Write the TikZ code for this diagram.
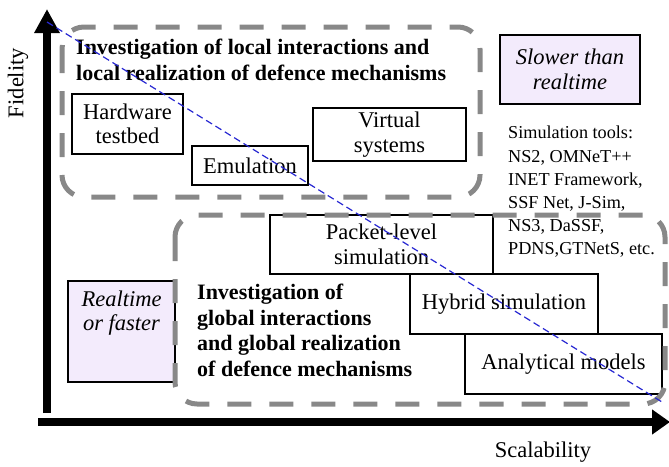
\documentclass[tikz,border=0pt]{standalone}
\usepackage{fontspec}
\setmainfont{Liberation Serif}
\usetikzlibrary{arrows.meta}
\definecolor{lav}{RGB}{243,235,252}
\definecolor{dgray}{RGB}{136,136,136}
\definecolor{dblue}{RGB}{40,40,210}
\begin{document}
\begin{tikzpicture}[x=1pt,y=-1pt,
  txt/.style={font=\fontsize{22.5}{24.5}\selectfont},
  btxt/.style={font=\fontsize{22}{25.5}\selectfont\bfseries},
  box/.style={draw=black,line width=1.6pt,fill=white,txt,align=center,inner sep=0pt},
  shade/.style={box,fill=lav,font=\fontsize{22.5}{24.5}\selectfont\itshape},
  region/.style={draw=dgray,line width=5pt,rounded corners=22pt,dash pattern=on 24pt off 18pt},
  axis/.style={line width=7.5pt,-{Triangle[length=24pt,width=24pt]}},
  trend/.style={draw=dblue,line width=1.2pt,dash pattern=on 7pt off 4pt}]
\useasboundingbox (0,0) rectangle (669,466);

% boxes of the individual methods
\node[box,minimum width=111pt,minimum height=60pt] (hw) at (127.5,124) {Hardware\\testbed};
\node[box,minimum width=116pt,minimum height=39pt] (emu) at (250,165.5) {Emulation};
\node[box,minimum width=153pt,minimum height=53pt] (virt) at (389.5,134.5) {Virtual\\systems};
\node[box,minimum width=223pt,minimum height=59pt] (pkt) at (381.5,244.5) {Packet-level\\simulation};
\node[box,minimum width=188pt,minimum height=60pt] (hyb) at (504,304) {Hybrid simulation};
\node[box,minimum width=197pt,minimum height=60pt] (ana) at (563.5,364) {Analytical models};

% speed categories
\node[shade,minimum width=140pt,minimum height=69pt] (slow) at (570,69.5) {Slower than\\realtime};
\node[shade,minimum width=107pt,minimum height=101pt] (fast) at (121.5,331.5)
  {\parbox[t][90pt][t]{104pt}{\centering\vspace{4pt}Realtime\\or faster}};

% dashed regions
\draw[region] (62,27) rectangle (480,197);
\draw[region] (175,215) rectangle (665,404);

% region titles
\node[btxt,anchor=north west,align=left,inner sep=0pt] (loc) at (76,39)
  {Investigation of local interactions and\\local realization of defence mechanisms};
\node[btxt,anchor=north west,align=left,inner sep=0pt] (glob) at (197,284)
  {Investigation of\\global interactions\\and global realization\\of defence mechanisms};

% list of tools
\node[font=\fontsize{18.2}{23.2}\selectfont,anchor=north west,align=left,inner sep=0pt] (tools) at (508,126)
  {Simulation tools:\\NS2, OMNeT++\\INET Framework,\\SSF Net, J-Sim,\\NS3, DaSSF,\\PDNS,GTNetS, etc.};

% axes
\coordinate (o1) at (47,413);
\coordinate (ytip) at (47,9);
\coordinate (o2) at (38,422);
\coordinate (xtip) at (670,422);
\draw[axis] (o1) -- (ytip);
\draw[axis,-{Triangle[length=18pt,width=24pt]}] (o2) -- (xtip);
\node[txt,rotate=90] (fid) at (18,83) {Fidelity};
\node[txt] (scal) at (543,452) {Scalability};

% trade-off line
\coordinate (t1) at (47,22);
\coordinate (t2) at (662,402);
\draw[trend] (t1) -- (t2);
\end{tikzpicture}
\end{document}
